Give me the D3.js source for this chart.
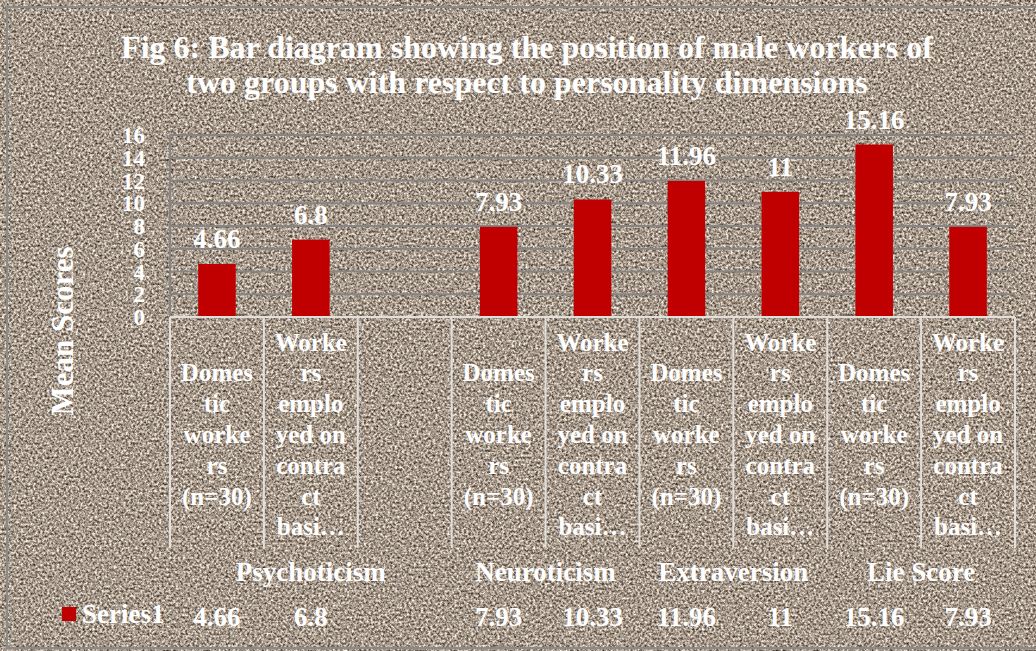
<!DOCTYPE html>
<html>
<head>
<meta charset="utf-8">
<script src="https://cdn.jsdelivr.net/npm/d3@7"></script>
<style>
  html, body { margin: 0; padding: 0; background: #fff; }
  svg text { font-family: "Liberation Serif", "Times New Roman", serif; font-weight: bold; fill: #fff; }
</style>
</head>
<body>
<svg id="chart" width="1036" height="651"></svg>
<script>
// data
var values = [4.66, 6.8, null, 7.93, 10.33, 11.96, 11, 15.16, 7.93];
var catLabels = [
  ["Domes", "tic", "worke", "rs", "(n=30)"],
  ["Worke", "rs", "emplo", "yed on", "contra", "ct", "basi…"],
  [],
  ["Domes", "tic", "worke", "rs", "(n=30)"],
  ["Worke", "rs", "emplo", "yed on", "contra", "ct", "basi…"],
  ["Domes", "tic", "worke", "rs", "(n=30)"],
  ["Worke", "rs", "emplo", "yed on", "contra", "ct", "basi…"],
  ["Domes", "tic", "worke", "rs", "(n=30)"],
  ["Worke", "rs", "emplo", "yed on", "contra", "ct", "basi…"]
];
var groups = ["Psychoticism", "Neuroticism", "Extraversion", "Lie Score"];
var groupSpans = [3, 2, 2, 2];
var yTicks = [0, 2, 4, 6, 8, 10, 12, 14, 16];
var seriesName = "Series1";
var titleLines = ["Fig 6: Bar diagram showing the position of male workers of",
                  "two groups with respect to personality dimensions"];

var svg = d3.select("#chart"),
  width = +svg.attr("width"),
  height = +svg.attr("height");

// granite-ish background texture
var defs = svg.append("defs");
var f = defs.append("filter").attr("id", "granite")
  .attr("x", 0).attr("y", 0).attr("width", "100%").attr("height", "100%")
  .attr("color-interpolation-filters", "sRGB");
f.append("feTurbulence").attr("type", "fractalNoise")
  .attr("baseFrequency", 0.42).attr("numOctaves", 3).attr("seed", 7);
f.append("feColorMatrix").attr("type", "matrix")
  .attr("values", "1.2 0 0 0 0.05  1.2 0 0 0 0.0  1.2 0 0 0 -0.05  0 0 0 0 1");

svg.append("rect").attr("x", 0).attr("y", 0)
  .attr("width", width).attr("height", height)
  .attr("filter", "url(#granite)");

svg.append("rect").attr("x", 7).attr("y", 7)
  .attr("width", 1040).attr("height", 641)
  .attr("fill", "none").attr("stroke", "#8a8a8a").attr("stroke-width", 2);

var x = d3.scaleBand().domain(d3.range(values.length)).range([170, 1015]).padding(0);
var y = d3.scaleLinear().domain([0, 16]).range([317, 135]);
var bw = x.bandwidth();

// title
svg.append("g").selectAll("text").data(titleLines).enter().append("text")
  .attr("x", 527).attr("y", function (d, i) { return 58 + i * 35; })
  .attr("text-anchor", "middle").style("font-size", "32px")
  .text(function (d) { return d; });

// gridlines
svg.append("g").selectAll("line").data(yTicks.filter(function (d) { return d > 0; }))
  .enter().append("line")
  .attr("x1", 170).attr("x2", 1015)
  .attr("y1", function (d) { return y(d); }).attr("y2", function (d) { return y(d); })
  .attr("stroke", "#858585").attr("stroke-width", 2);

svg.append("line").attr("x1", 170).attr("x2", 170).attr("y1", y(16)).attr("y2", y(0))
  .attr("stroke", "#858585").attr("stroke-width", 2);

// y tick labels
svg.append("g").selectAll("text").data(yTicks).enter().append("text")
  .attr("x", 145).attr("y", function (d) { return y(d) + 8; })
  .attr("text-anchor", "end").style("font-size", "23px")
  .text(function (d) { return d; });

svg.append("text")
  .attr("transform", "translate(73,331) rotate(-90)")
  .attr("text-anchor", "middle").style("font-size", "31px")
  .text("Mean Scores");

// bars
var data = values.map(function (v, i) { return { i: i, v: v }; })
  .filter(function (d) { return d.v !== null; });

svg.append("g").selectAll("rect").data(data).enter().append("rect")
  .attr("x", function (d) { return x(d.i) + bw * 0.3; })
  .attr("width", bw * 0.4)
  .attr("y", function (d) { return y(d.v); })
  .attr("height", function (d) { return y(0) - y(d.v); })
  .attr("fill", "#c00000");

svg.append("g").selectAll("text").data(data).enter().append("text")
  .attr("x", function (d) { return x(d.i) + bw / 2; })
  .attr("y", function (d) { return y(d.v) - 16; })
  .attr("text-anchor", "middle").style("font-size", "27px")
  .text(function (d) { return d.v; });

// category axis / table lines
var lineCol = "#e2e0dc";
svg.append("line").attr("x1", 170).attr("x2", 1015).attr("y1", y(0)).attr("y2", y(0))
  .attr("stroke", lineCol).attr("stroke-width", 2);
svg.append("g").selectAll("line").data(d3.range(values.length + 1)).enter().append("line")
  .attr("x1", function (d) { return 170 + d * bw; })
  .attr("x2", function (d) { return 170 + d * bw; })
  .attr("y1", y(0)).attr("y2", 548)
  .attr("stroke", lineCol).attr("stroke-width", 2);

var lh = 30.8;
var cat = svg.append("g").selectAll("text").data(catLabels).enter().append("text")
  .attr("text-anchor", "middle").style("font-size", "25px")
  .attr("transform", function (d, i) { return "translate(" + (x(i) + bw / 2) + ",0)"; });
cat.selectAll("tspan").data(function (d) {
    return d.map(function (s, k) { return { s: s, k: k, n: d.length }; });
  }).enter().append("tspan")
  .attr("x", 0)
  .attr("y", function (d) { return 443 + (d.k - (d.n - 1) / 2) * lh; })
  .text(function (d) { return d.s; });

// group labels
var starts = [0];
groupSpans.forEach(function (s, k) { starts.push(starts[k] + s); });
svg.append("g").selectAll("text").data(groups).enter().append("text")
  .attr("x", function (d, k) { return 170 + (starts[k] + groupSpans[k] / 2) * bw; })
  .attr("y", 581).attr("text-anchor", "middle").style("font-size", "27px")
  .text(function (d) { return d; });

// data table row
svg.append("rect").attr("x", 62).attr("y", 607).attr("width", 14).attr("height", 14)
  .attr("fill", "#c00000");
svg.append("text").attr("x", 82).attr("y", 623).style("font-size", "27px").text(seriesName);
svg.append("g").selectAll("text").data(data).enter().append("text")
  .attr("x", function (d) { return x(d.i) + bw / 2; })
  .attr("y", 626).attr("text-anchor", "middle").style("font-size", "27px")
  .text(function (d) { return d.v; });
</script>
</body>
</html>
